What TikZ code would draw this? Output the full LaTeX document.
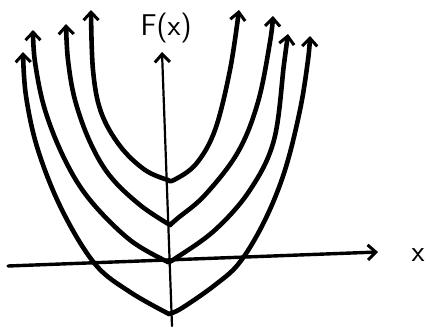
\documentclass[tikz,border=0pt]{standalone}
\usetikzlibrary{arrows.meta}
\begin{document}
\begin{tikzpicture}[x=1pt,y=-1pt,
  ink/.style={line width=4.6pt,line cap=round,line join=round,black},
  axis/.style={line width=3.4pt,line cap=round,black},
  yaxis/.style={line width=2.2pt,line cap=round,black},
  tip/.style={-{Straight Barb[length=8pt,width=15pt,line width=3pt]}},
  lbl/.style={font=\sffamily\fontsize{30}{32}\selectfont,inner sep=0pt}]
\useasboundingbox (0,0) rectangle (432,332);
% axes
\coordinate (xs) at (8,266);
\coordinate (xe) at (378,252);
\coordinate (ys) at (172,326);
\coordinate (ye) at (162,52);
\draw[axis,tip] (xs) -- (xe);
\draw[yaxis,tip] (ys) -- (ye);
\node[lbl] (xl) at (418,255) {x};
\node[lbl] (fl) at (166,28) {F(x)};
% curve 1 (top)
\draw[ink,tip] plot[smooth,tension=0.6] coordinates {(168,180) (145,170) (120,146) (101,112) (93,70) (91,10)};
\draw[ink,tip] plot[smooth,tension=0.6] coordinates {(168,180) (174,180) (196,164) (215,130) (230,70) (239,10)};
% curve 2
\draw[ink,tip] plot[smooth,tension=0.6] coordinates {(170,225) (140,205) (110,176) (90,142) (75,100) (68,60) (66,24)};
\draw[ink,tip] plot[smooth,tension=0.6] coordinates {(170,225) (178,218) (205,195) (238,152) (258,102) (270,42) (273,16)};
% curve 3
\draw[ink,tip] plot[smooth,tension=0.6] coordinates {(168,262) (130,240) (90,200) (65,160) (45,110) (35,62) (33,30)};
\draw[ink,tip] plot[smooth,tension=0.6] coordinates {(168,262) (176,258) (215,230) (250,190) (274,140) (284,64) (288,34)};
% curve 4 (bottom)
\draw[ink,tip] plot[smooth,tension=0.6] coordinates {(169,314) (130,292) (95,264) (62,210) (38,150) (26,96) (23,52)};
\draw[ink,tip] plot[smooth,tension=0.6] coordinates {(169,314) (182,308) (215,285) (240,262) (265,220) (285,170) (300,110) (308,60) (310,36)};
\end{tikzpicture}
\end{document}
